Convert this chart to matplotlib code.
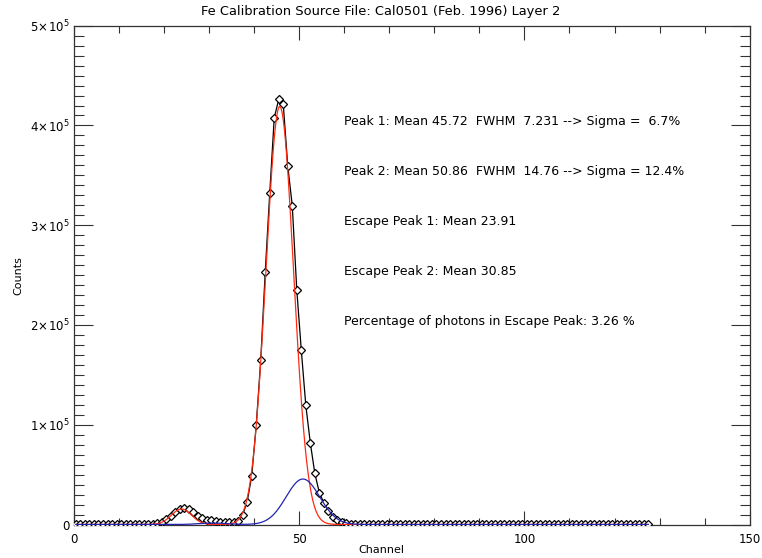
import numpy as np
import matplotlib.pyplot as plt
from matplotlib.ticker import MultipleLocator, FuncFormatter

# counts per channel, plotted at bin centres (channel + 0.5)
counts = [
    150, 120, 100, 100, 100, 100, 100, 100, 100, 120,
    120, 150, 150, 200, 200, 300, 400, 700, 1500, 3000,
    5500, 9000, 12500, 15500, 17000, 15500, 12500, 9000, 6500, 5000,
    4200, 3500, 3000, 2700, 2600, 2800, 4000, 9700, 23000, 48600,
    99400, 164600, 253100, 332000, 407800, 426200, 421200, 359400, 319600, 235100,
    174900, 119500, 82000, 51300, 31900, 21900, 14000, 8000, 4500, 2500,
    1200, 600, 300, 200, 150, 150, 150, 150, 150, 150,
    150, 150, 150, 150, 150, 150, 150, 150, 150, 150,
    150, 150, 150, 150, 150, 150, 150, 150, 150, 150,
    150, 150, 150, 150, 150, 150, 150, 150, 150, 150,
    150, 150, 150, 150, 150, 150, 150, 150, 150, 150,
    150, 150, 150, 150, 150, 150, 150, 150, 150, 150,
    150, 150, 150, 150, 150, 150, 150, 150,
]
channel = np.arange(len(counts)) + 0.5

# fitted components as drawn (mean, width of drawn curve, amplitude)
peak1 = (45.72, 7.231, 4.19e5)
peak2 = (50.86, 8.8, 4.56e4)
esc1 = (23.91, 5.23, 1.55e4)
esc2 = (30.85, 7.0, 1.5e3)

notes = [
    "Peak 1: Mean 45.72  FWHM  7.231 --> Sigma =  6.7%",
    "Peak 2: Mean 50.86  FWHM  14.76 --> Sigma = 12.4%",
    "Escape Peak 1: Mean 23.91",
    "Escape Peak 2: Mean 30.85",
    "Percentage of photons in Escape Peak: 3.26 %",
]
note_y = [4.0e5, 3.5e5, 3.0e5, 2.5e5, 2.0e5]


def gauss(x, mean, fwhm, amp):
    s = fwhm / (2.0 * np.sqrt(2.0 * np.log(2.0)))
    return amp * np.exp(-0.5 * ((x - mean) / s) ** 2)


xf = np.linspace(channel[0], channel[-1], 1500)
red = gauss(xf, *peak1) + gauss(xf, *esc1)
blue = gauss(xf, *peak2) + gauss(xf, *esc2)

plt.rcParams['font.family'] = 'DejaVu Sans'
plt.rcParams['mathtext.fontset'] = 'dejavusans'

fig = plt.figure(figsize=(7.62, 5.58), dpi=100)
ax = fig.add_axes([73.7 / 762, 1 - 524.5 / 558, 676 / 762, 498.8 / 558])

ax.plot(channel, counts, color='black', lw=0.9, marker='D', ms=4.5,
        mfc='white', mec='black', mew=0.9, zorder=3)
ax.plot(xf, red, color='#ff2a10', lw=0.9, zorder=4)
ax.plot(xf, blue, color='#2323b4', lw=0.9, zorder=4)

ax.set_xlim(0, 150)
ax.set_ylim(0, 5e5)
ax.xaxis.set_major_locator(MultipleLocator(50))
ax.xaxis.set_minor_locator(MultipleLocator(10))
ax.yaxis.set_major_locator(MultipleLocator(1e5))
ax.yaxis.set_minor_locator(MultipleLocator(1e4))


def ylab(v, pos):
    n = int(round(v / 1e5))
    return '0' if n == 0 else r'$%d\!\times\!10^{5}$' % n


ax.yaxis.set_major_formatter(FuncFormatter(ylab))
ax.tick_params(which='both', direction='in', top=True, right=True,
               width=0.8, color='#333333', labelsize=8.5)
ax.tick_params(axis='x', which='major', length=10, pad=6)
ax.tick_params(axis='x', which='minor', length=5)
ax.tick_params(axis='y', which='major', length=14, pad=3)
ax.tick_params(axis='y', which='minor', length=7)
for sp in ax.spines.values():
    sp.set_linewidth(0.9)
    sp.set_color('#333333')

for t, y in zip(notes, note_y):
    ax.text(60, y, t, fontsize=9, ha='left', va='baseline')

fig.text(0.5, 1 - 12 / 558, "Fe Calibration Source File: Cal0501 (Feb. 1996) Layer 2",
         ha='center', va='center', fontsize=9.4)
fig.text(0.5, 1 - 550 / 558, "Channel", ha='center', va='center', fontsize=8)
fig.text(18 / 762, 1 - 276 / 558, "Counts", ha='center', va='center',
         rotation=90, fontsize=8)

fig.savefig('out.png', dpi=100)
